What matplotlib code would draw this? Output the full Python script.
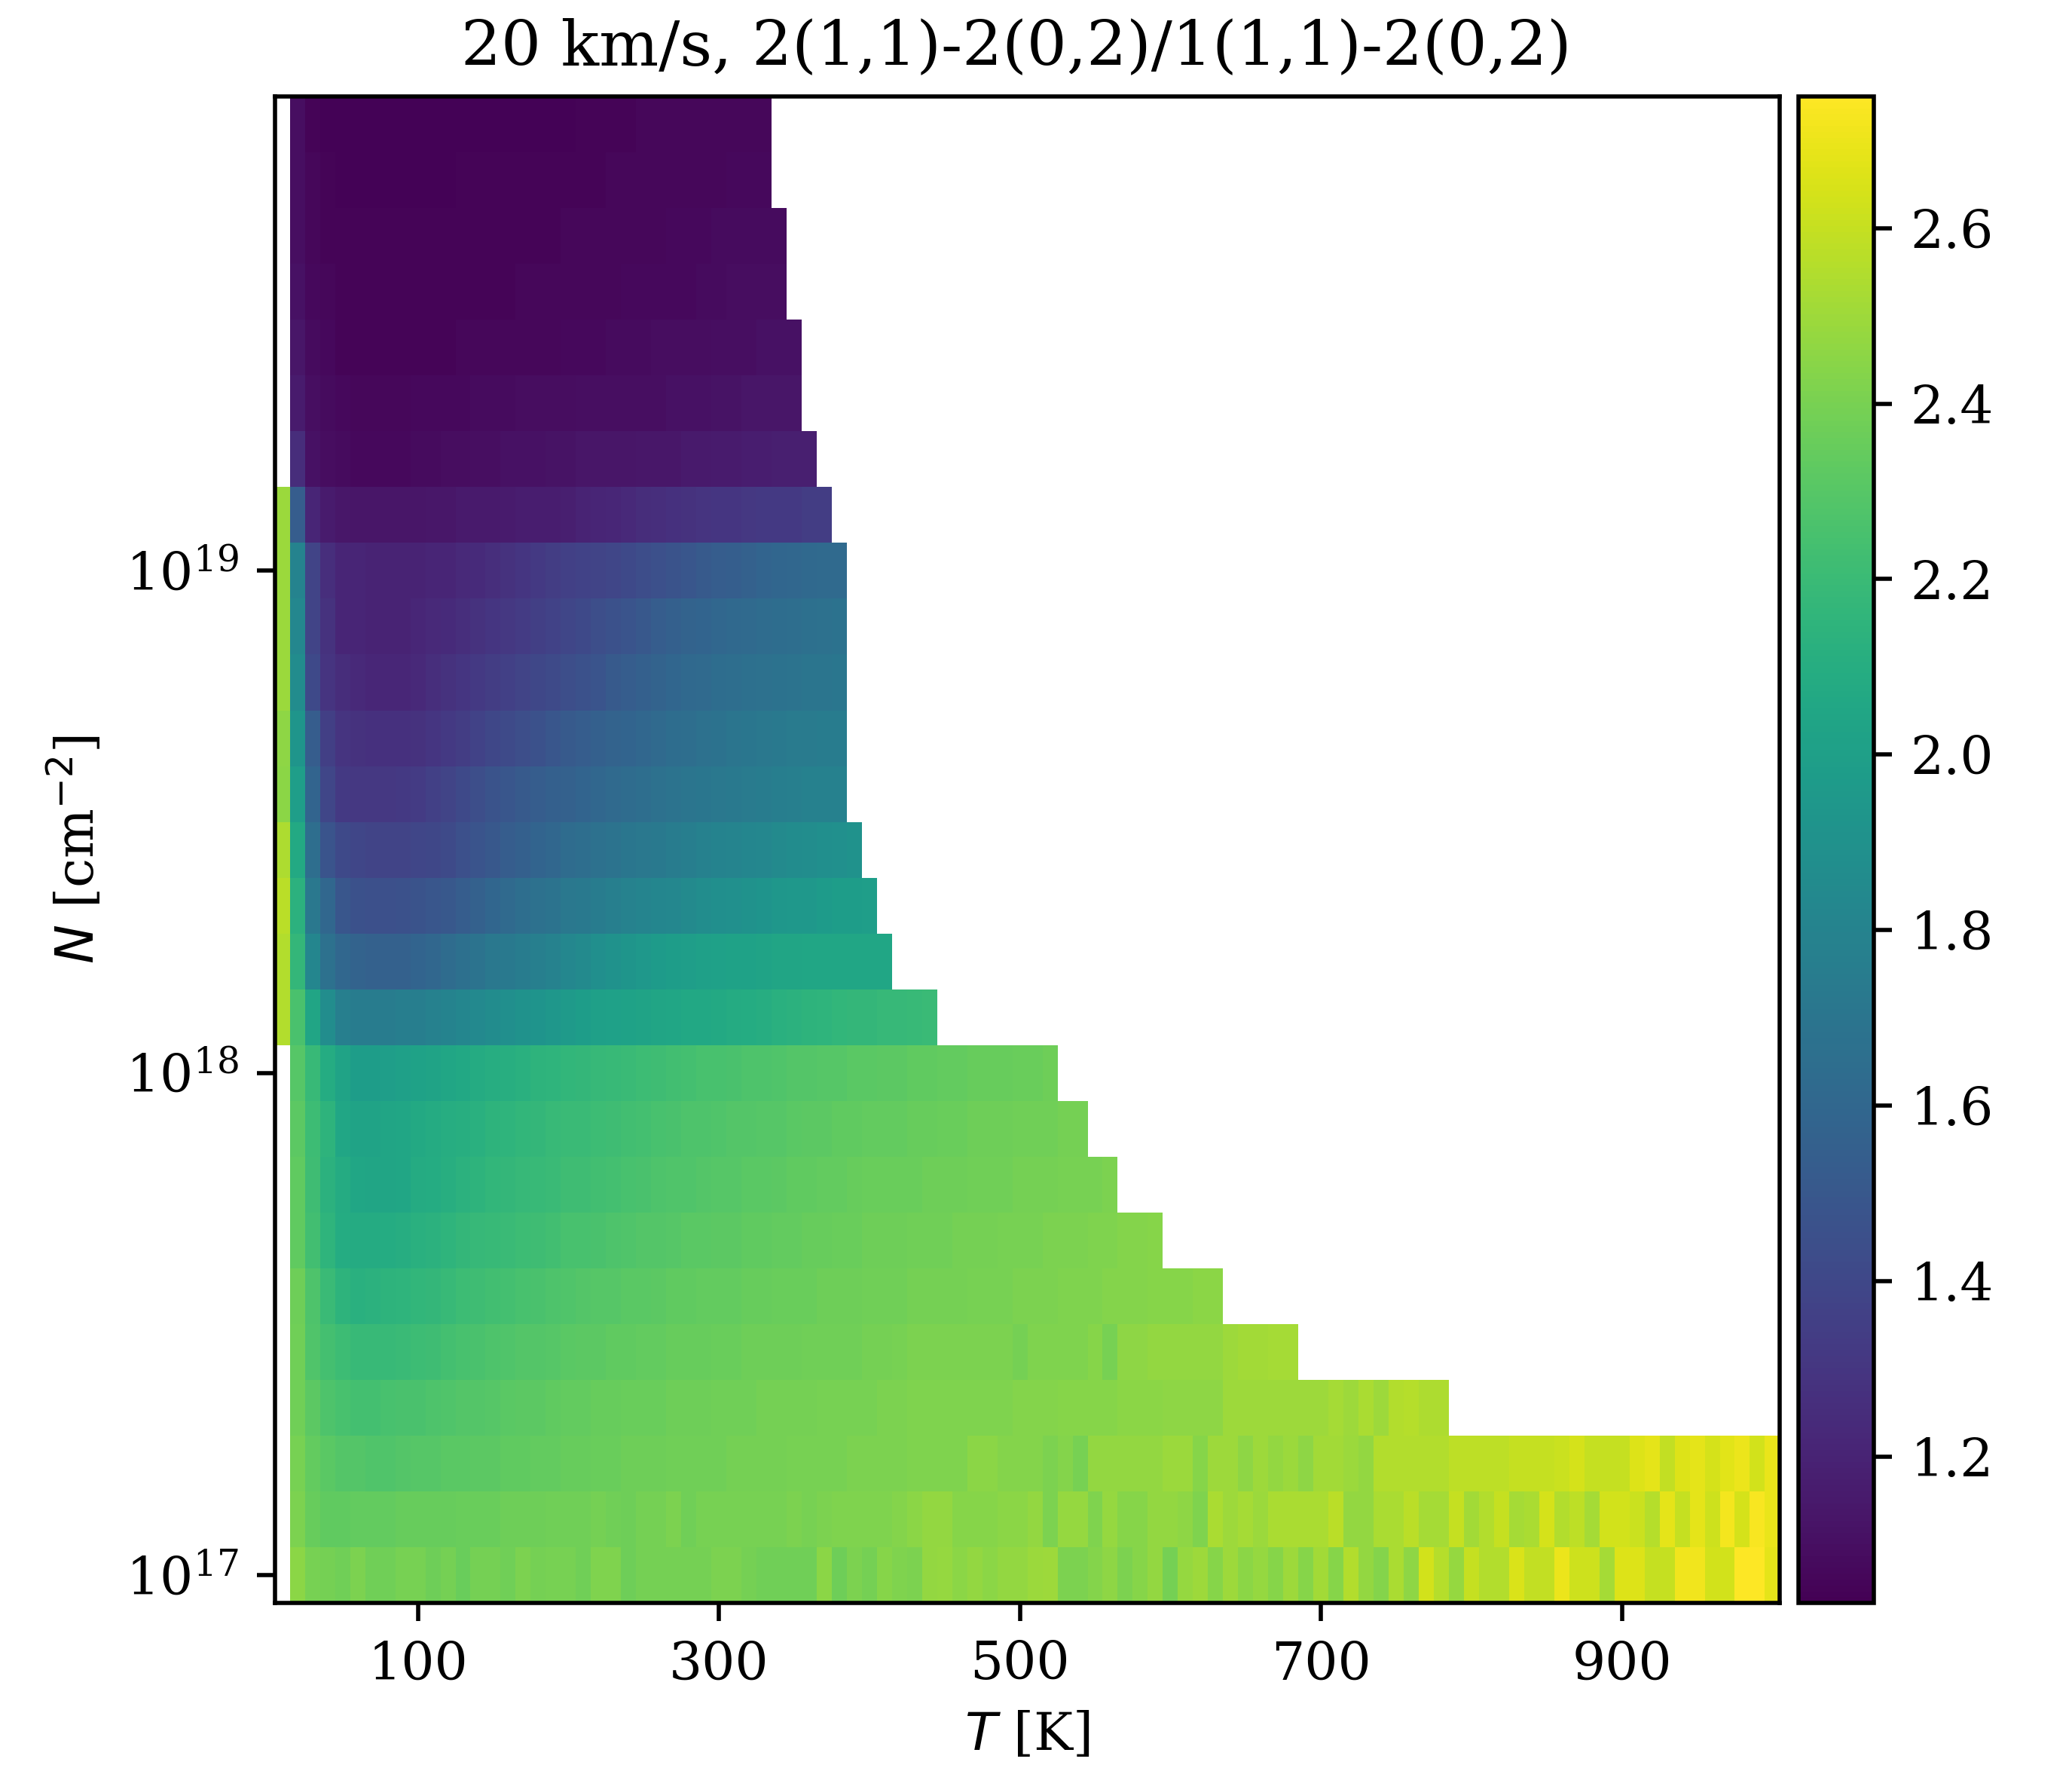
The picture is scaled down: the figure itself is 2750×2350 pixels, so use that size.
import numpy as np
import matplotlib
matplotlib.use("Agg")
from matplotlib import pyplot as plt

nan = np.nan

# T grid is 10..1000 K, N grid is 27 log steps of 1/9 dex starting at 1e17
temps = list(range(10, 1001, 10))
log_n = [17 + k / 9 for k in range(27)]

# rows go from the lowest N upward, short rows are white on the right
row00 = [nan,2.45,2.40,2.39,2.38,2.41,2.38,2.38,2.40,2.40,
 2.37,2.39,2.36,2.39,2.39,2.38,2.41,2.39,2.40,2.40,
 2.38,2.42,2.42,2.37,2.39,2.39,2.39,2.39,2.39,2.41,
 2.41,2.39,2.38,2.38,2.38,2.38,2.45,2.37,2.41,2.39,
 2.44,2.42,2.41,2.47,2.48,2.45,2.47,2.45,2.47,2.47,
 2.49,2.50,2.41,2.41,2.43,2.46,2.41,2.44,2.47,2.39,
 2.48,2.50,2.44,2.50,2.45,2.48,2.44,2.50,2.44,2.51,
 2.44,2.55,2.47,2.43,2.53,2.46,2.63,2.56,2.48,2.60,
 2.55,2.55,2.65,2.59,2.59,2.70,2.62,2.62,2.52,2.66,
 2.66,2.60,2.60,2.71,2.71,2.63,2.63,2.75,2.75,2.68]
row01 = [nan,2.41,2.35,2.33,2.33,2.34,2.34,2.34,2.35,2.35,
 2.35,2.35,2.36,2.36,2.36,2.37,2.37,2.37,2.38,2.38,
 2.38,2.39,2.38,2.37,2.39,2.39,2.41,2.38,2.40,2.40,
 2.40,2.40,2.40,2.40,2.41,2.40,2.41,2.42,2.42,2.42,
 2.42,2.43,2.45,2.47,2.47,2.44,2.44,2.44,2.45,2.45,
 2.47,2.41,2.48,2.48,2.42,2.48,2.44,2.44,2.47,2.47,
 2.46,2.42,2.53,2.50,2.52,2.49,2.53,2.53,2.53,2.53,
 2.57,2.47,2.47,2.53,2.53,2.57,2.52,2.52,2.60,2.51,
 2.55,2.60,2.52,2.53,2.64,2.55,2.58,2.52,2.63,2.63,
 2.61,2.56,2.68,2.60,2.68,2.62,2.72,2.64,2.73,2.69]
row02 = [nan,2.40,2.34,2.31,2.29,2.29,2.28,2.28,2.29,2.30,
 2.30,2.31,2.31,2.32,2.32,2.33,2.33,2.34,2.34,2.35,
 2.35,2.36,2.36,2.37,2.37,2.37,2.38,2.38,2.38,2.38,
 2.39,2.39,2.39,2.39,2.40,2.40,2.40,2.40,2.41,2.41,
 2.41,2.41,2.42,2.42,2.42,2.42,2.45,2.45,2.43,2.43,
 2.43,2.41,2.43,2.40,2.47,2.47,2.47,2.47,2.47,2.49,
 2.49,2.44,2.50,2.50,2.46,2.50,2.47,2.49,2.46,2.51,
 2.51,2.49,2.47,2.55,2.55,2.55,2.55,2.55,2.58,2.58,
 2.58,2.58,2.60,2.60,2.60,2.61,2.64,2.60,2.60,2.60,
 2.66,2.68,2.59,2.66,2.68,2.64,2.67,2.70,2.63,2.69]
row03 = [nan,2.38,2.32,2.27,2.25,2.24,2.24,2.25,2.26,2.26,
 2.27,2.28,2.29,2.29,2.30,2.31,2.32,2.32,2.33,2.34,
 2.34,2.35,2.35,2.36,2.36,2.36,2.37,2.37,2.37,2.38,
 2.38,2.38,2.39,2.39,2.39,2.39,2.40,2.40,2.40,2.40,
 2.41,2.41,2.42,2.42,2.42,2.42,2.42,2.42,2.42,2.43,
 2.43,2.43,2.44,2.44,2.44,2.44,2.45,2.45,2.45,2.46,
 2.46,2.46,2.46,2.50,2.50,2.50,2.50,2.50,2.50,2.50,
 2.52,2.50,2.53,2.50,2.55,2.56,2.54,2.54]
row04 = [nan,2.38,2.28,2.24,2.21,2.19,2.19,2.19,2.20,2.21,
 2.22,2.24,2.25,2.26,2.27,2.28,2.29,2.29,2.30,2.31,
 2.32,2.32,2.33,2.33,2.34,2.34,2.35,2.35,2.35,2.36,
 2.36,2.37,2.37,2.37,2.37,2.38,2.38,2.38,2.38,2.39,
 2.39,2.40,2.41,2.41,2.41,2.41,2.41,2.41,2.41,2.39,
 2.42,2.42,2.42,2.42,2.44,2.40,2.46,2.46,2.47,2.47,
 2.47,2.47,2.47,2.50,2.51,2.51,2.52,2.52]
row05 = [nan,2.37,2.27,2.20,2.14,2.12,2.13,2.14,2.15,2.16,
 2.17,2.19,2.21,2.22,2.23,2.24,2.25,2.26,2.27,2.28,
 2.29,2.30,2.30,2.31,2.31,2.32,2.33,2.33,2.34,2.34,
 2.34,2.35,2.35,2.36,2.36,2.36,2.37,2.37,2.37,2.38,
 2.38,2.38,2.39,2.39,2.39,2.39,2.40,2.40,2.40,2.41,
 2.41,2.41,2.42,2.42,2.42,2.43,2.43,2.43,2.44,2.44,
 2.44,2.45,2.45]
row06 = [nan,2.33,2.23,2.15,2.09,2.08,2.08,2.09,2.10,2.12,
 2.13,2.15,2.17,2.18,2.19,2.20,2.21,2.22,2.23,2.25,
 2.25,2.26,2.27,2.28,2.29,2.29,2.30,2.31,2.31,2.32,
 2.32,2.33,2.33,2.34,2.34,2.35,2.35,2.36,2.36,2.37,
 2.37,2.37,2.38,2.38,2.38,2.39,2.39,2.39,2.40,2.40,
 2.40,2.41,2.41,2.41,2.42,2.42,2.43,2.43,2.44]
row07 = [nan,2.33,2.22,2.13,2.08,2.05,2.04,2.04,2.05,2.08,
 2.09,2.11,2.13,2.14,2.16,2.17,2.18,2.19,2.20,2.22,
 2.22,2.23,2.24,2.25,2.26,2.27,2.28,2.28,2.29,2.30,
 2.30,2.31,2.31,2.32,2.33,2.33,2.34,2.34,2.35,2.36,
 2.36,2.36,2.36,2.37,2.37,2.37,2.38,2.38,2.38,2.39,
 2.39,2.39,2.40,2.40,2.40,2.41]
row08 = [nan,2.32,2.21,2.14,2.05,2.03,2.03,2.04,2.05,2.07,
 2.08,2.10,2.11,2.12,2.14,2.15,2.16,2.17,2.19,2.20,
 2.20,2.21,2.22,2.23,2.24,2.25,2.26,2.27,2.27,2.28,
 2.29,2.29,2.30,2.30,2.31,2.32,2.32,2.33,2.33,2.34,
 2.34,2.34,2.35,2.35,2.36,2.36,2.37,2.37,2.37,2.38,
 2.38,2.38,2.39,2.39]
row09 = [nan,2.30,2.19,2.09,2.03,1.98,1.98,1.99,2.00,2.02,
 2.03,2.05,2.06,2.08,2.10,2.11,2.12,2.14,2.15,2.16,
 2.17,2.18,2.19,2.20,2.21,2.22,2.23,2.24,2.25,2.25,
 2.26,2.27,2.27,2.28,2.29,2.29,2.30,2.30,2.31,2.31,
 2.32,2.32,2.33,2.33,2.34,2.34,2.35,2.35,2.35,2.36,
 2.36,2.37]
row10 = [2.55,2.26,2.04,1.87,1.77,1.75,1.75,1.75,1.76,1.76,
 1.78,1.80,1.82,1.84,1.86,1.88,1.90,1.92,1.94,1.96,
 1.98,2.00,2.01,2.02,2.03,2.04,2.05,2.06,2.06,2.07,
 2.08,2.09,2.10,2.12,2.13,2.14,2.15,2.16,2.17,2.17,
 2.18,2.18,2.19,2.20]
row11 = [2.55,2.17,1.82,1.67,1.60,1.57,1.56,1.56,1.56,1.58,
 1.60,1.63,1.66,1.69,1.72,1.73,1.75,1.77,1.79,1.83,
 1.85,1.88,1.91,1.93,1.95,1.97,1.98,1.99,2.00,2.01,
 2.02,2.02,2.03,2.04,2.04,2.05,2.05,2.05,2.05,2.05,
 2.05]
row12 = [2.57,2.13,1.72,1.60,1.49,1.46,1.45,1.45,1.46,1.47,
 1.49,1.50,1.53,1.56,1.59,1.62,1.65,1.67,1.69,1.72,
 1.73,1.75,1.77,1.79,1.81,1.82,1.83,1.85,1.87,1.88,
 1.89,1.91,1.92,1.94,1.95,1.95,1.97,1.98,1.98,1.99]
row13 = [2.54,2.07,1.65,1.48,1.41,1.39,1.38,1.38,1.38,1.39,
 1.40,1.42,1.45,1.48,1.50,1.53,1.55,1.58,1.60,1.63,
 1.65,1.67,1.69,1.71,1.72,1.73,1.75,1.76,1.78,1.80,
 1.81,1.82,1.83,1.85,1.86,1.87,1.88,1.89,1.90]
row14 = [2.45,1.99,1.58,1.39,1.32,1.31,1.31,1.31,1.32,1.33,
 1.36,1.38,1.41,1.44,1.47,1.49,1.51,1.53,1.55,1.56,
 1.58,1.60,1.62,1.63,1.65,1.67,1.69,1.70,1.71,1.72,
 1.73,1.74,1.75,1.76,1.77,1.78,1.78,1.78]
row15 = [2.46,1.93,1.53,1.35,1.29,1.28,1.27,1.27,1.27,1.28,
 1.30,1.32,1.34,1.37,1.40,1.42,1.44,1.46,1.49,1.51,
 1.53,1.55,1.57,1.58,1.60,1.62,1.64,1.65,1.67,1.68,
 1.70,1.71,1.72,1.73,1.74,1.74,1.75,1.75]
row16 = [2.49,1.86,1.41,1.29,1.25,1.23,1.22,1.22,1.22,1.23,
 1.26,1.28,1.30,1.32,1.34,1.36,1.38,1.40,1.42,1.44,
 1.46,1.48,1.51,1.53,1.55,1.57,1.59,1.61,1.62,1.64,
 1.65,1.66,1.67,1.68,1.69,1.70,1.70,1.71]
row17 = [2.49,1.83,1.38,1.28,1.21,1.21,1.20,1.20,1.20,1.22,
 1.23,1.24,1.26,1.28,1.30,1.31,1.33,1.35,1.37,1.39,
 1.41,1.44,1.46,1.48,1.50,1.53,1.55,1.57,1.58,1.60,
 1.61,1.62,1.63,1.64,1.65,1.66,1.67,1.68]
row18 = [2.49,1.80,1.38,1.26,1.21,1.21,1.20,1.20,1.20,1.20,
 1.21,1.21,1.23,1.24,1.26,1.28,1.30,1.32,1.34,1.36,
 1.37,1.38,1.39,1.41,1.43,1.45,1.47,1.49,1.51,1.53,
 1.54,1.56,1.58,1.59,1.60,1.61,1.62,1.62]
row19 = [2.49,1.53,1.21,1.16,1.14,1.13,1.13,1.13,1.13,1.13,
 1.14,1.14,1.15,1.15,1.15,1.16,1.17,1.17,1.17,1.18,
 1.20,1.21,1.22,1.23,1.25,1.26,1.27,1.28,1.29,1.30,
 1.30,1.31,1.32,1.32,1.32,1.34,1.34]
row20 = [nan,1.25,1.11,1.09,1.08,1.07,1.07,1.07,1.07,1.08,
 1.08,1.09,1.09,1.10,1.10,1.11,1.11,1.11,1.12,1.12,
 1.13,1.13,1.13,1.13,1.14,1.14,1.14,1.15,1.15,1.16,
 1.16,1.17,1.17,1.18,1.18,1.18]
row21 = [nan,1.16,1.10,1.08,1.07,1.06,1.06,1.06,1.06,1.07,
 1.07,1.07,1.07,1.08,1.08,1.08,1.09,1.09,1.09,1.09,
 1.10,1.10,1.10,1.10,1.10,1.10,1.11,1.11,1.11,1.12,
 1.12,1.13,1.13,1.13,1.13]
row22 = [nan,1.13,1.08,1.07,1.05,1.05,1.05,1.05,1.05,1.05,
 1.05,1.05,1.06,1.06,1.06,1.06,1.06,1.06,1.06,1.07,
 1.07,1.07,1.08,1.08,1.08,1.09,1.09,1.09,1.09,1.10,
 1.10,1.10,1.11,1.11,1.11]
row23 = [nan,1.11,1.07,1.06,1.05,1.05,1.05,1.05,1.05,1.05,
 1.05,1.05,1.05,1.05,1.05,1.05,1.06,1.06,1.06,1.06,
 1.06,1.06,1.06,1.07,1.07,1.07,1.07,1.07,1.08,1.08,
 1.09,1.09,1.09,1.09]
row24 = [nan,1.10,1.06,1.05,1.05,1.05,1.05,1.05,1.05,1.05,
 1.05,1.05,1.05,1.05,1.05,1.05,1.05,1.05,1.05,1.06,
 1.06,1.06,1.06,1.06,1.06,1.06,1.07,1.07,1.07,1.08,
 1.08,1.08,1.08,1.08]
row25 = [nan,1.10,1.06,1.05,1.04,1.04,1.04,1.04,1.04,1.04,
 1.04,1.04,1.05,1.05,1.05,1.05,1.05,1.05,1.05,1.05,
 1.05,1.05,1.06,1.06,1.06,1.06,1.06,1.06,1.06,1.06,
 1.07,1.07,1.07]
row26 = [nan,1.10,1.05,1.04,1.04,1.04,1.04,1.04,1.04,1.04,
 1.04,1.04,1.04,1.04,1.04,1.04,1.04,1.04,1.04,1.04,
 1.05,1.05,1.05,1.05,1.06,1.06,1.06,1.06,1.06,1.06,
 1.06,1.06,1.06]

rows = [row00, row01, row02, row03, row04, row05, row06, row07, row08, row09,
        row10, row11, row12, row13, row14, row15, row16, row17, row18, row19,
        row20, row21, row22, row23, row24, row25, row26]

x_ticks = [100, 300, 500, 700, 900]
y_ticks = [1e17, 1e18, 1e19]
cbar_ticks = [1.2, 1.4, 1.6, 1.8, 2.0, 2.2, 2.4, 2.6]
V_MIN = 1.033
V_MAX = 2.75

ratio = np.full((len(rows), len(temps)), nan)
for i, r in enumerate(rows):
    ratio[i, :len(r)] = r

# cell edges half a step either side of the grid
x_edges = np.append(np.array(temps) - 5, temps[-1] + 5)
y_edges = 10 ** np.append(np.array(log_n) - 1 / 18, log_n[-1] + 1 / 18)

plt.rcParams['font.family'] = 'DejaVu Serif'
plt.rcParams['font.size'] = 10

fig = plt.figure(figsize=(5.5, 4.7), dpi=500)
ax = fig.add_axes([208 / 1568, 1 - 1213 / 1340, (1347 - 208) / 1568, (1213 - 73) / 1340])
cax = fig.add_axes([1361 / 1568, 1 - 1213 / 1340, (1418 - 1361) / 1568, (1213 - 73) / 1340])

mesh = ax.pcolormesh(x_edges, y_edges, np.ma.masked_invalid(ratio), cmap='viridis',
                     vmin=V_MIN, vmax=V_MAX)
ax.set_yscale('log')
ax.set_xlim(x_edges[0], x_edges[-1])
ax.set_ylim(y_edges[0], y_edges[-1])
ax.set_xticks(x_ticks)
ax.set_yticks(y_ticks)
ax.minorticks_off()
ax.set_xlabel('$T$ [K]')
ax.set_ylabel('$N$ [cm$^{-2}$]')
ax.set_title('20 km/s, 2(1,1)-2(0,2)/1(1,1)-2(0,2)', fontsize=12, x=0.4925)

cbar = fig.colorbar(mesh, cax=cax)
cbar.set_ticks(cbar_ticks)

fig.savefig('out.png', dpi=500)
